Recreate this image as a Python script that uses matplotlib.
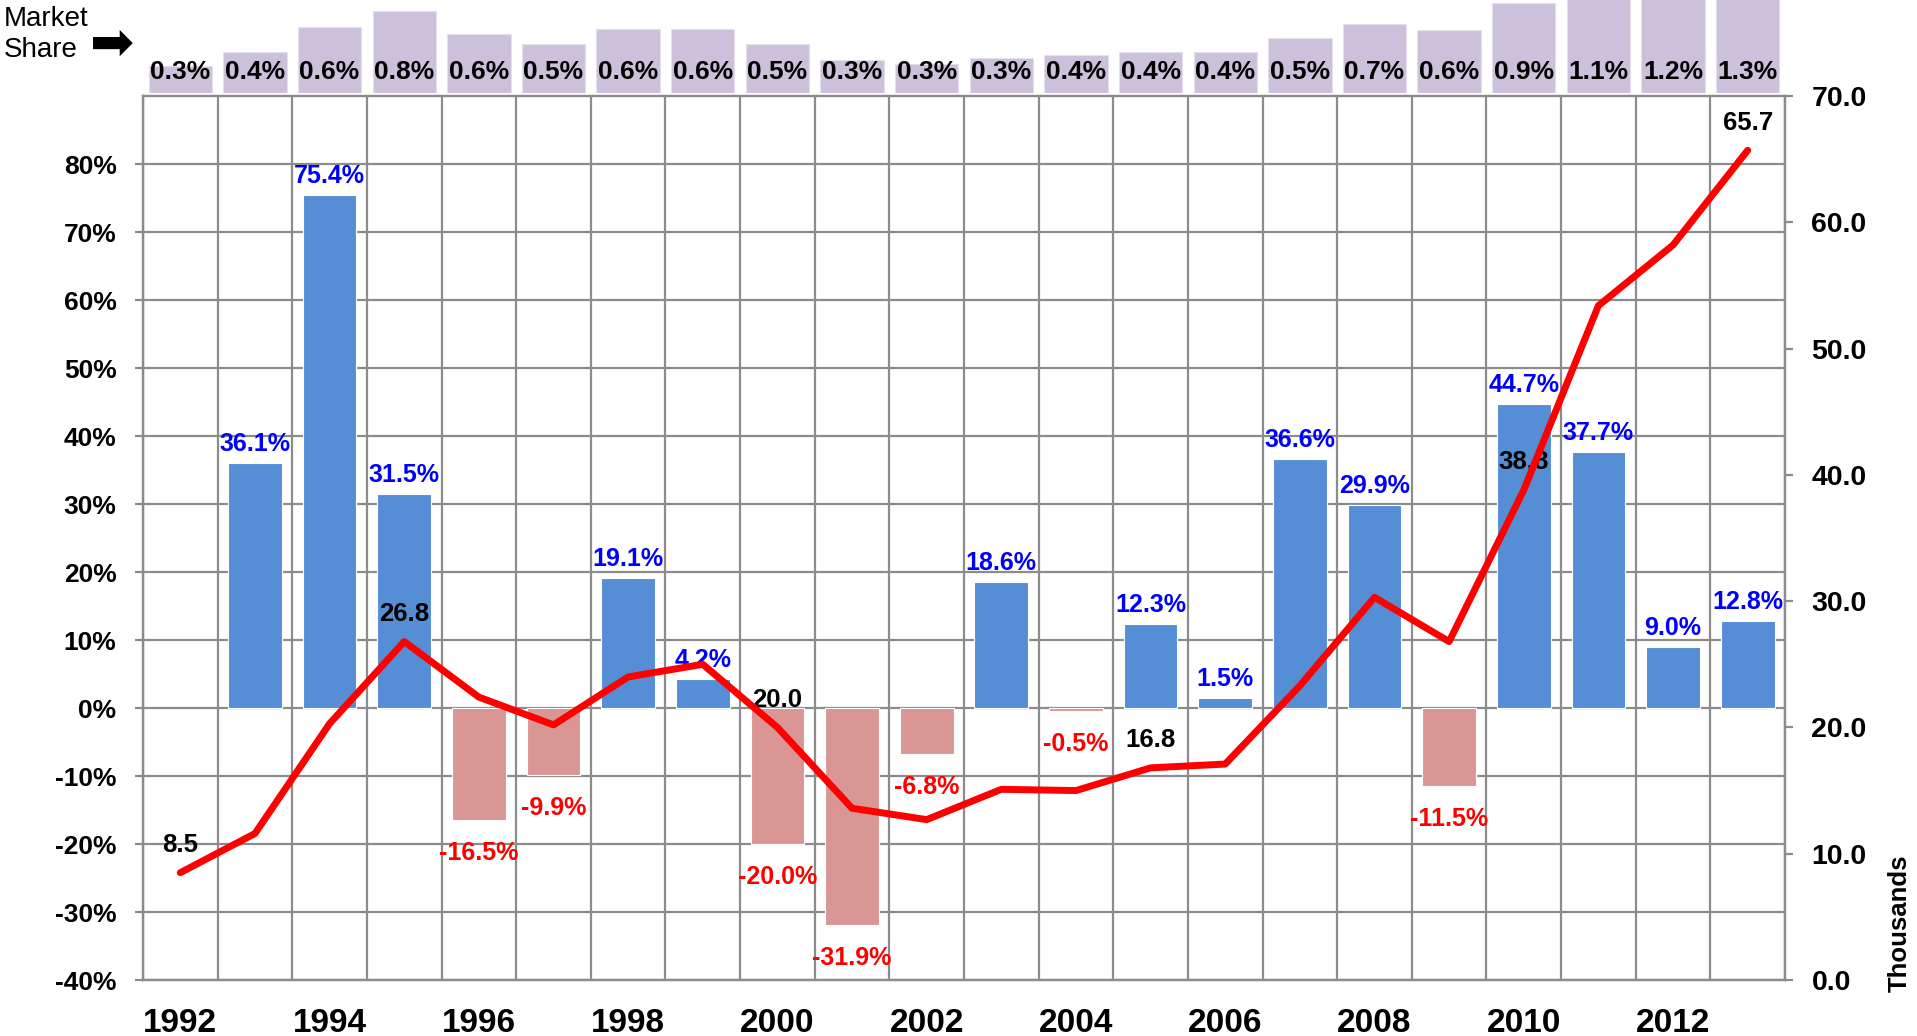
import numpy as np
import matplotlib
matplotlib.use("Agg")
from matplotlib import pyplot as plt

plt.rcParams["font.family"] = ["Liberation Sans", "DejaVu Sans"]

years = list(range(1992, 2014))
# yearly growth (%), first year has none
growth = [np.nan, 36.1, 75.4, 31.5, -16.5, -9.9, 19.1, 4.2, -20.0, -31.9, -6.8,
          18.6, -0.5, 12.3, 1.5, 36.6, 29.9, -11.5, 44.7, 37.7, 9.0, 12.8]
# volume in thousands
volume = [8.5, 11.6, 20.3, 26.8, 22.4, 20.2, 24.0, 25.0, 20.0, 13.6, 12.7,
          15.1, 15.0, 16.8, 17.1, 23.3, 30.3, 26.8, 38.8, 53.4, 58.2, 65.7]
volume_labeled = [1992, 1995, 2000, 2005, 2010, 2013]
# market share (%)
share = [0.26, 0.39, 0.63, 0.78, 0.56, 0.47, 0.61, 0.61, 0.47, 0.31, 0.28,
         0.33, 0.36, 0.39, 0.39, 0.52, 0.66, 0.60, 0.86, 1.1, 1.2, 1.3]

GRID = "#8c8c8c"
POS = "#558ED5"
NEG = "#D99694"

W, H = 1917, 1036
fig = plt.figure(figsize=(W / 100, H / 100), dpi=100)
L, R, T, B = 143, 1785, 96, 980
ax = fig.add_axes([L / W, 1 - B / H, (R - L) / W, (B - T) / H])

x = np.arange(len(years))
ax.set_xlim(-0.5, len(years) - 0.5)
ax.set_ylim(-40, 90)

# bars (skip the year without growth)
g = np.array(growth)
ok = ~np.isnan(g)
cols = [POS if v >= 0 else NEG for v in g[ok]]
ax.bar(x[ok], g[ok], width=0.72, color=cols, edgecolor="white",
       linewidth=0.8, zorder=3)
for xi, v in zip(x[ok], g[ok]):
    if v >= 0:
        ax.annotate(f"{v:.1f}%", (xi, v), xytext=(0, 5), textcoords="offset points",
                    ha="center", va="bottom", color="#0000FF", fontsize=18,
                    fontweight="bold", zorder=5)
    else:
        ax.annotate(f"{v:.1f}%", (xi, v), xytext=(0, -15), textcoords="offset points",
                    ha="center", va="top", color="#FF0000", fontsize=18,
                    fontweight="bold", zorder=5)

# grid
ax.set_yticks(np.arange(-40, 81, 10))
ax.set_yticklabels([f"{v}%" for v in range(-40, 81, 10)])
ax.set_xticks(x[::2])
ax.set_xticklabels([str(y) for y in years[::2]])
ax.set_xticks(np.arange(-0.5, len(years), 1), minor=True)
ax.grid(True, which="minor", axis="x", color=GRID, linewidth=1.6, zorder=0)
ax.grid(True, which="major", axis="y", color=GRID, linewidth=1.6, zorder=0)
ax.set_axisbelow(True)
ax.tick_params(axis="y", length=6, width=1.6, color=GRID, pad=13, labelsize=19)
ax.tick_params(axis="x", which="both", length=0, pad=20, labelsize=24)
for lab in ax.get_xticklabels() + ax.get_yticklabels():
    lab.set_fontweight("bold")
for s in ax.spines.values():
    s.set_color(GRID)
    s.set_linewidth(1.6)

# volume line on secondary axis
ax2 = ax.twinx()
ax2.set_ylim(0, 70)
ax2.plot(x, volume, color="#FF0000", linewidth=5, solid_capstyle="round", zorder=4)
for xi, yr, v in zip(x, years, volume):
    if yr in volume_labeled:
        ax2.annotate(f"{v:.1f}", (xi, v), xytext=(0, 20), textcoords="offset points",
                     ha="center", va="center", fontsize=18.5, fontweight="bold",
                     color="black", zorder=3)
ax2.set_yticks(np.arange(0, 71, 10))
ax2.set_yticklabels([f"{v:.1f}" for v in range(0, 71, 10)])
ax2.tick_params(axis="y", length=6, width=1.6, color=GRID, pad=13, labelsize=20.5)
for lab in ax2.get_yticklabels():
    lab.set_fontweight("bold")
for s in ax2.spines.values():
    s.set_color(GRID)
    s.set_linewidth(1.6)
fig.text(1900 / W, 1 - 923 / H, "Thousands", rotation=90, ha="center", va="center",
         fontsize=18.5, fontweight="bold")

# market share strip
axs = fig.add_axes([L / W, 1 - 93 / H, (R - L) / W, 93 / H])
axs.set_xlim(-0.5, len(years) - 0.5)
axs.set_ylim(0, 0.886)
axs.bar(x, share, width=0.85, color="#CCC1DA", edgecolor="#E6E0EC", linewidth=0.8)
for xi, v in zip(x, share):
    axs.text(xi, 0.2, f"{v:.1f}%", ha="center", va="center", fontsize=19,
             fontweight="bold")
axs.axis("off")

fig.text(4 / W, 1 - 19 / H, "Market", ha="left", va="center", fontsize=20)
fig.text(4 / W, 1 - 50 / H, "Share", ha="left", va="center", fontsize=20)
fig.text(112 / W, 1 - 45 / H, "\u27a1", ha="center", va="center", fontsize=38,
         family="DejaVu Sans")

fig.savefig("out.png", dpi=100)
